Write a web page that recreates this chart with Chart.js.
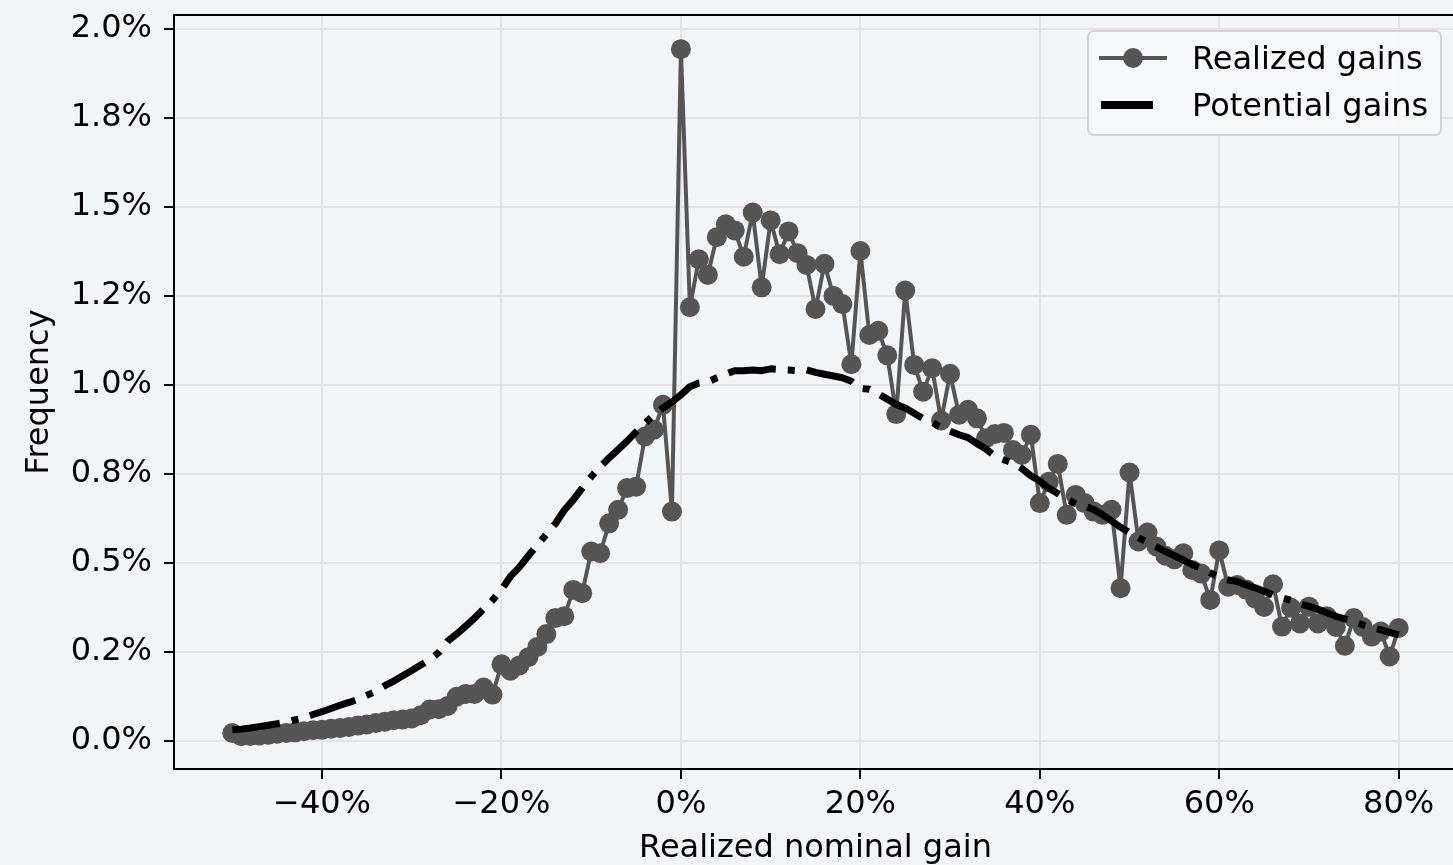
<!DOCTYPE html>
<html>
<head>
<meta charset="utf-8">
<title>Realized vs potential gains</title>
<script src="https://cdn.jsdelivr.net/npm/chart.js@4.4.0/dist/chart.umd.min.js"></script>
<style>
  html, body { margin: 0; padding: 0; overflow: hidden; background: #f2f5f8; }
  canvas { display: block; }
</style>
</head>
<body>
<canvas id="gainsChart" width="1470" height="865"></canvas>
<script>
// gain buckets in percent
const gains = [
  -50, -49, -48, -47, -46, -45, -44, -43, -42, -41,
  -40, -39, -38, -37, -36, -35, -34, -33, -32, -31,
  -30, -29, -28, -27, -26, -25, -24, -23, -22, -21,
  -20, -19, -18, -17, -16, -15, -14, -13, -12, -11,
  -10, -9, -8, -7, -6, -5, -4, -3, -2, -1,
  0, 1, 2, 3, 4, 5, 6, 7, 8, 9,
  10, 11, 12, 13, 14, 15, 16, 17, 18, 19,
  20, 21, 22, 23, 24, 25, 26, 27, 28, 29,
  30, 31, 32, 33, 34, 35, 36, 37, 38, 39,
  40, 41, 42, 43, 44, 45, 46, 47, 48, 49,
  50, 51, 52, 53, 54, 55, 56, 57, 58, 59,
  60, 61, 62, 63, 64, 65, 66, 67, 68, 69,
  70, 71, 72, 73, 74, 75, 76, 77, 78, 79,
  80
];

// frequency (%) of realized sales per bucket
const realized = [
  0.022, 0.013, 0.014, 0.015, 0.017, 0.020, 0.022, 0.024, 0.027, 0.030,
  0.031, 0.034, 0.036, 0.039, 0.043, 0.046, 0.050, 0.054, 0.058, 0.060,
  0.063, 0.072, 0.088, 0.089, 0.098, 0.124, 0.132, 0.132, 0.150, 0.130,
  0.215, 0.197, 0.212, 0.235, 0.264, 0.300, 0.345, 0.350, 0.424, 0.415,
  0.532, 0.527, 0.611, 0.649, 0.710, 0.714, 0.855, 0.874, 0.944, 0.644,
  1.943, 1.218, 1.353, 1.309, 1.415, 1.451, 1.434, 1.360, 1.484, 1.274,
  1.462, 1.367, 1.431, 1.370, 1.337, 1.213, 1.340, 1.250, 1.227, 1.058,
  1.376, 1.140, 1.152, 1.083, 0.918, 1.265, 1.056, 0.981, 1.047, 0.900,
  1.031, 0.916, 0.930, 0.906, 0.850, 0.862, 0.865, 0.817, 0.803, 0.860,
  0.668, 0.728, 0.778, 0.635, 0.691, 0.668, 0.644, 0.635, 0.649, 0.429,
  0.754, 0.560, 0.585, 0.546, 0.520, 0.510, 0.527, 0.480, 0.470, 0.396,
  0.535, 0.433, 0.438, 0.425, 0.400, 0.376, 0.440, 0.321, 0.374, 0.330,
  0.377, 0.330, 0.350, 0.320, 0.267, 0.345, 0.320, 0.293, 0.307, 0.237,
  0.317
];

// frequency (%) of potential (paper) gains per bucket
const potential = [
  0.031, 0.033, 0.036, 0.040, 0.044, 0.048, 0.053, 0.059, 0.065, 0.074,
  0.082, 0.091, 0.100, 0.108, 0.117, 0.128, 0.140, 0.155, 0.168, 0.183,
  0.198, 0.213, 0.228, 0.248, 0.280, 0.300, 0.322, 0.345, 0.370, 0.395,
  0.425, 0.462, 0.488, 0.520, 0.550, 0.580, 0.610, 0.648, 0.677, 0.710,
  0.742, 0.770, 0.795, 0.818, 0.842, 0.868, 0.893, 0.915, 0.935, 0.952,
  0.972, 0.995, 1.005, 1.008, 1.020, 1.030, 1.040, 1.040, 1.042, 1.040,
  1.045, 1.043, 1.042, 1.040, 1.042, 1.035, 1.030, 1.025, 1.020, 1.010,
  0.990, 0.988, 0.975, 0.960, 0.945, 0.935, 0.920, 0.905, 0.895, 0.880,
  0.870, 0.860, 0.852, 0.835, 0.820, 0.800, 0.790, 0.780, 0.765, 0.745,
  0.730, 0.710, 0.695, 0.680, 0.666, 0.660, 0.650, 0.635, 0.618, 0.600,
  0.585, 0.570, 0.558, 0.545, 0.532, 0.520, 0.508, 0.495, 0.485, 0.472,
  0.460, 0.452, 0.448, 0.438, 0.430, 0.420, 0.410, 0.402, 0.395, 0.385,
  0.378, 0.370, 0.360, 0.350, 0.343, 0.335, 0.326, 0.318, 0.312, 0.305,
  0.298
];

const xTickValues = [-40, -20, 0, 20, 40, 60, 80];
const xTickLabels = ['−40%', '−20%', '0%', '20%', '40%', '60%', '80%'];
const yTickValues = [0, 0.25, 0.5, 0.75, 1, 1.25, 1.5, 1.75, 2];
const yTickLabels = ['0.0%', '0.2%', '0.5%', '0.8%', '1.0%', '1.2%', '1.5%', '1.8%', '2.0%'];

const FONT = 'DejaVu Sans';
const FONT_SIZE = 32;
const GREY = '#555555';

// keep the plot box fixed: no extra room reserved for edge labels
function noEdgePadding(s) {
  s.paddingTop = 0;
  s.paddingBottom = 0;
  s.paddingLeft = 0;
  s.paddingRight = 0;
}

// axes frame on all four sides + legend box in the top-right corner
const frameAndLegend = {
  id: 'frameAndLegend',
  afterDatasetsDraw(chart) {
    const { ctx, chartArea: a } = chart;
    ctx.save();
    ctx.strokeStyle = '#000';
    ctx.lineWidth = 2;
    ctx.strokeRect(a.left, a.top, a.right - a.left, a.bottom - a.top);

    const bx = a.right - 369, by = a.top + 16, bw = 353, bh = 104;
    ctx.beginPath();
    ctx.roundRect(bx, by, bw, bh, 6);
    ctx.fillStyle = 'rgba(246,248,251,0.9)';
    ctx.fill();
    ctx.strokeStyle = '#d2d2d2';
    ctx.lineWidth = 2;
    ctx.stroke();

    const sets = chart.data.datasets;
    ctx.font = FONT_SIZE + 'px "' + FONT + '"';
    ctx.textBaseline = 'alphabetic';

    // realized: line with circle marker
    let cy = by + 27;
    ctx.strokeStyle = GREY;
    ctx.lineWidth = 4;
    ctx.beginPath();
    ctx.moveTo(bx + 11, cy);
    ctx.lineTo(bx + 79, cy);
    ctx.stroke();
    ctx.fillStyle = GREY;
    ctx.beginPath();
    ctx.arc(bx + 45, cy, 10, 0, Math.PI * 2);
    ctx.fill();
    ctx.fillStyle = '#000';
    ctx.fillText(sets[0].label, bx + 104, cy + 11);

    // potential: thick black bar
    cy = by + 74;
    ctx.strokeStyle = '#000';
    ctx.lineWidth = 8;
    ctx.beginPath();
    ctx.moveTo(bx + 13, cy);
    ctx.lineTo(bx + 65, cy);
    ctx.stroke();
    ctx.fillText(sets[1].label, bx + 104, cy + 11);
    ctx.restore();
  }
};

new Chart(document.getElementById('gainsChart').getContext('2d'), {
  type: 'line',
  data: {
    datasets: [
      {
        label: 'Realized gains',
        data: gains.map((g, i) => ({ x: g, y: realized[i] })),
        borderColor: GREY,
        borderWidth: 4,
        borderJoinStyle: 'round',
        pointRadius: 10,
        pointBackgroundColor: GREY,
        pointBorderWidth: 0,
        tension: 0,
        order: 2
      },
      {
        label: 'Potential gains',
        data: gains.map((g, i) => ({ x: g, y: potential[i] })),
        borderColor: '#000',
        borderWidth: 7,
        borderDash: [48, 12, 7, 12],
        borderCapStyle: 'butt',
        borderJoinStyle: 'round',
        pointRadius: 0,
        tension: 0,
        order: 1
      }
    ]
  },
  options: {
    responsive: false,
    animation: false,
    devicePixelRatio: 1,
    events: [],
    layout: { padding: { left: 0, top: 15, right: 13, bottom: 0 } },
    plugins: {
      legend: { display: false },
      tooltip: { enabled: false }
    },
    scales: {
      x: {
        type: 'linear',
        min: -56.5,
        max: 86.5,
        afterBuildTicks: s => { s.ticks = xTickValues.map(v => ({ value: v })); },
        afterFit: s => { s.height = 96; noEdgePadding(s); },
        border: { display: false },
        grid: {
          color: '#e3e3e3',
          lineWidth: 2,
          tickColor: '#000',
          tickLength: 10,
          tickWidth: 2
        },
        ticks: {
          color: '#000',
          font: { family: FONT, size: FONT_SIZE },
          padding: 6,
          maxRotation: 0,
          autoSkip: false,
          callback: v => xTickLabels[xTickValues.indexOf(v)]
        },
        title: {
          display: true,
          text: 'Realized nominal gain',
          color: '#000',
          font: { family: FONT, size: FONT_SIZE, lineHeight: 1 },
          padding: { top: 0, bottom: 0 }
        }
      },
      y: {
        min: -0.079,
        max: 2.039,
        afterBuildTicks: s => { s.ticks = yTickValues.map(v => ({ value: v })); },
        afterFit: s => { s.width = 174; noEdgePadding(s); },
        border: { display: false },
        grid: {
          color: '#e3e3e3',
          lineWidth: 2,
          tickColor: '#000',
          tickLength: 10,
          tickWidth: 2
        },
        ticks: {
          color: '#000',
          font: { family: FONT, size: FONT_SIZE },
          padding: 12,
          autoSkip: false,
          callback: v => yTickLabels[yTickValues.indexOf(v)]
        },
        title: {
          display: true,
          text: 'Frequency',
          color: '#000',
          font: { family: FONT, size: FONT_SIZE, lineHeight: 1 },
          padding: { top: 24, bottom: 0 }
        }
      }
    }
  },
  plugins: [frameAndLegend]
});
</script>
</body>
</html>
